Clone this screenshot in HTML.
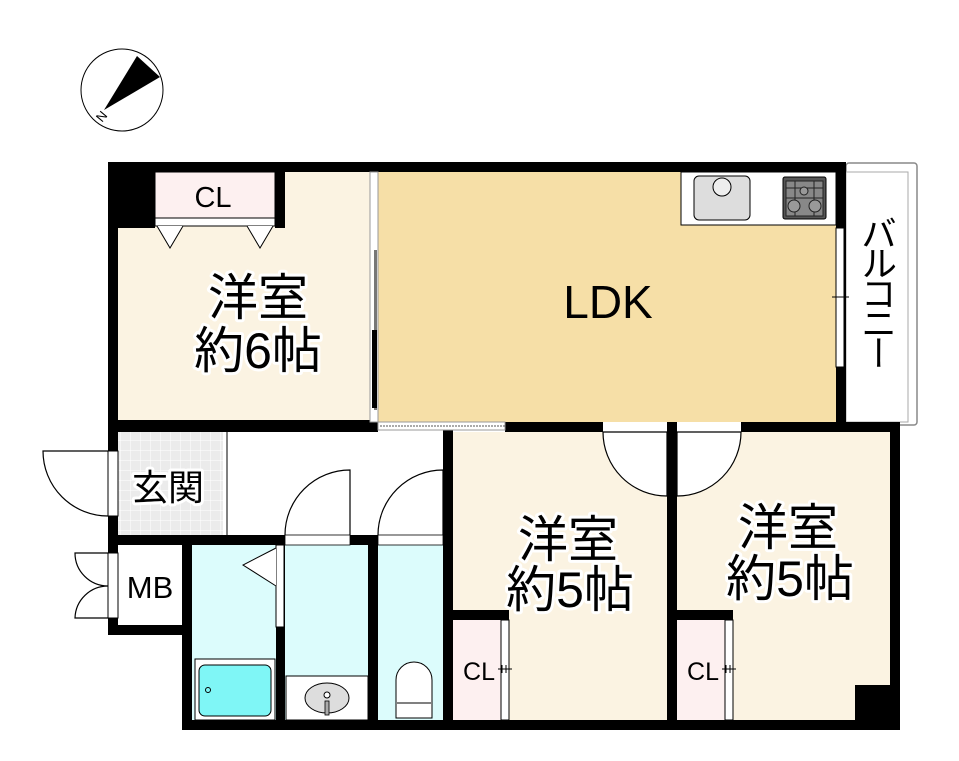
<!DOCTYPE html>
<html><head><meta charset="utf-8"><style>
body{margin:0;background:#fff;position:relative;}
svg{display:block}
text{font-family:"Liberation Sans","Noto Sans CJK JP",sans-serif;}
.bal{position:absolute;left:859px;top:215px;width:40px;font-family:"Noto Sans CJK JP",sans-serif;font-size:36px;line-height:40px;writing-mode:vertical-rl;text-orientation:upright;letter-spacing:-6px;color:#000;}
</style></head><body>
<svg width="959" height="761" viewBox="0 0 959 761" xmlns="http://www.w3.org/2000/svg">
<defs>
<pattern id="tile" width="10" height="10" patternUnits="userSpaceOnUse">
<rect width="10" height="10" fill="#ebebeb"/><path d="M0 0H10M0 0V10" stroke="#fff" stroke-width="1"/>
</pattern>
</defs>
<circle cx="122" cy="90" r="41" fill="#fff" stroke="#000" stroke-width="1"/>
<path d="M137 56 L160 77 L104 110 Z" fill="#000"/>
<text x="96" y="122" font-size="13" transform="rotate(-50 100 116)">N</text>
<rect x="846" y="163" width="71" height="262" fill="#fff" stroke="#888" stroke-width="1.5" rx="3"/>
<rect x="846" y="172" width="62" height="250" fill="#fff" stroke="#aaa" stroke-width="1"/>
<rect x="118" y="172" width="255" height="250" fill="#fbf3e2"/>
<rect x="378" y="172" width="460" height="250" fill="#f6dfa7"/>
<rect x="681" y="172" width="155" height="53" fill="#fff" stroke="#000" stroke-width="1"/>
<rect x="155" y="172" width="120" height="46" fill="#fdf0f0" stroke="#000" stroke-width="1"/>
<rect x="155" y="218" width="120" height="8" fill="#fff" stroke="#000" stroke-width="1"/>
<path d="M157 226 L170 248 L183 226 M247 226 L260 248 L273 226" fill="#fff" stroke="#000" stroke-width="1"/>
<rect x="118" y="432" width="105" height="103" fill="url(#tile)"/>
<rect x="223" y="432" width="220" height="103" fill="#fff"/>
<line x1="227" y1="432" x2="227" y2="535" stroke="#000" stroke-width="1"/>
<rect x="118" y="545" width="64" height="80" fill="#fff"/>
<rect x="192" y="545" width="84" height="175" fill="#dcfcfc"/>
<rect x="285" y="545" width="83" height="175" fill="#dcfcfc"/>
<rect x="378" y="545" width="65" height="175" fill="#dcfcfc"/>
<rect x="453" y="432" width="214" height="288" fill="#fbf3e2"/>
<rect x="677" y="432" width="214" height="288" fill="#fbf3e2"/>
<rect x="453" y="620" width="50" height="100" fill="#fdf0f0"/>
<rect x="677" y="620" width="50" height="100" fill="#fdf0f0"/>
<g fill="#000">
<rect x="108" y="162" width="738" height="10"/>
<rect x="108" y="162" width="47" height="66"/>
<rect x="275" y="172" width="10" height="56"/>
<rect x="108" y="162" width="10" height="270"/>
<rect x="108" y="420" width="270" height="12"/>
<rect x="836" y="162" width="10" height="262"/>
<rect x="505" y="422" width="395" height="10"/>
<rect x="443" y="422" width="10" height="308"/>
<rect x="667" y="422" width="10" height="308"/>
<rect x="890" y="422" width="10" height="308"/>
<rect x="183" y="720" width="717" height="10"/>
<rect x="108" y="432" width="10" height="203"/>
<rect x="108" y="535" width="345" height="10"/>
<rect x="108" y="625" width="84" height="10"/>
<rect x="182" y="545" width="10" height="185"/>
<rect x="276" y="545" width="9" height="185"/>
<rect x="368" y="545" width="10" height="185"/>
<rect x="453" y="610" width="56" height="10"/>
<rect x="677" y="610" width="56" height="10"/>
<rect x="855" y="685" width="35" height="35"/>
</g>
<rect x="370" y="172" width="8" height="250" fill="#fff" stroke="#999" stroke-width="1"/>
<rect x="374" y="250" width="3" height="160" fill="#777"/>
<rect x="372" y="330" width="5" height="78" fill="#000"/>
<rect x="378" y="422" width="127" height="8" fill="#fff" stroke="#999" stroke-width="1"/>
<line x1="380" y1="426" x2="505" y2="426" stroke="#555" stroke-dasharray="2,1"/>
<rect x="836" y="228" width="8" height="139" fill="#fff" stroke="#000" stroke-width="1"/>
<line x1="832" y1="297" x2="849" y2="297" stroke="#000"/>
<rect x="108" y="451" width="10" height="65" fill="#fff" stroke="#000" stroke-width="1"/>
<path d="M108 451 H43 A65 65 0 0 0 108 516" fill="none" stroke="#000" stroke-width="1.2"/>
<rect x="108" y="553" width="10" height="65" fill="#fff" stroke="#000" stroke-width="1"/>
<path d="M108 553 H75 A33 33 0 0 0 108 586 A33 33 0 0 0 75 618 H108" fill="none" stroke="#000" stroke-width="1.2"/>
<rect x="276" y="545" width="8" height="82" fill="#fff" stroke="#000" stroke-width="1"/>
<path d="M276 548 L243 565 L276 586" fill="#fff" stroke="#000" stroke-width="1"/>
<rect x="285" y="535" width="65" height="10" fill="#fff" stroke="#000" stroke-width="0.8"/>
<path d="M350 535 V470 A65 65 0 0 0 285 535" fill="none" stroke="#000" stroke-width="1.2"/>
<rect x="378" y="535" width="65" height="10" fill="#fff" stroke="#000" stroke-width="0.8"/>
<path d="M443 535 V470 A65 65 0 0 0 378 535" fill="none" stroke="#000" stroke-width="1.2"/>
<rect x="603" y="422" width="64" height="10" fill="#fff"/>
<path d="M603 432 A64 64 0 0 0 667 496 V432 Z" fill="#fff" stroke="#000" stroke-width="1.2"/>
<rect x="677" y="422" width="64" height="10" fill="#fff"/>
<path d="M741 432 A64 64 0 0 1 677 496 V432 Z" fill="#fff" stroke="#000" stroke-width="1.2"/>
<rect x="501" y="620" width="8" height="100" fill="#fff" stroke="#000" stroke-width="1"/>
<rect x="725" y="620" width="8" height="100" fill="#fff" stroke="#000" stroke-width="1"/>
<path d="M498 669 H512 M502 665 V673 M506 665 V673 M722 669 H736 M726 665 V673 M730 665 V673" stroke="#000" stroke-width="1"/>
<rect x="195" y="659" width="80" height="61" fill="#fff" stroke="#000" stroke-width="1"/>
<rect x="199" y="665" width="72" height="51" rx="6" fill="#7ff6f6" stroke="#000" stroke-width="1"/>
<circle cx="208" cy="690" r="2.5" fill="none" stroke="#000"/>
<rect x="286" y="676" width="82" height="44" fill="#fff" stroke="#000" stroke-width="1"/>
<ellipse cx="327" cy="698" rx="22" ry="15" fill="#ddd" stroke="#000"/>
<circle cx="327" cy="695" r="3" fill="#fff" stroke="#000"/>
<rect x="325" y="701" width="4" height="14" fill="#aaa" stroke="#000" stroke-width="0.8"/>
<path d="M396 718 V680 A18 18 0 0 1 432 680 V718 Z" fill="#fff" stroke="#000"/>
<line x1="397" y1="703" x2="431" y2="703" stroke="#000"/>
<rect x="694" y="176" width="56" height="44" rx="5" fill="#ddd" stroke="#000"/>
<circle cx="722" cy="187" r="9" fill="#eee" stroke="#000"/>
<rect x="783" y="177" width="43" height="42" rx="2" fill="#555" stroke="#000"/>
<rect x="786" y="181" width="37" height="35" fill="#888" stroke="#222"/>
<path d="M786 188 H823 M786 198 H823 M795 181 V216 M814 181 V216" stroke="#222" stroke-width="1"/>
<circle cx="794" cy="206" r="6" fill="#999" stroke="#222"/>
<circle cx="815" cy="206" r="6" fill="#999" stroke="#222"/>
<circle cx="804" cy="191" r="4" fill="#999" stroke="#222"/>
<g stroke="#fff" stroke-width="6" stroke-linejoin="round" paint-order="stroke" fill="#000" text-anchor="middle">
<text x="213" y="207" font-size="29" stroke="none">CL</text>
<text x="258" y="315" font-size="50">洋室</text>
<text x="258" y="368" font-size="50">約6帖</text>
<text x="608" y="318" font-size="46" stroke="none">LDK</text>
<text x="168" y="500" font-size="36">玄関</text>
<text x="150" y="598" font-size="31" stroke="none">MB</text>
<text x="568" y="557" font-size="50">洋室</text>
<text x="570" y="607" font-size="50">約5帖</text>
<text x="788" y="545" font-size="50">洋室</text>
<text x="790" y="596" font-size="50">約5帖</text>
<text x="479" y="680" font-size="25" stroke="none">CL</text>
<text x="703" y="680" font-size="25" stroke="none">CL</text>
</g>
</svg>
<div class="bal">バルコニー</div>
</body></html>
